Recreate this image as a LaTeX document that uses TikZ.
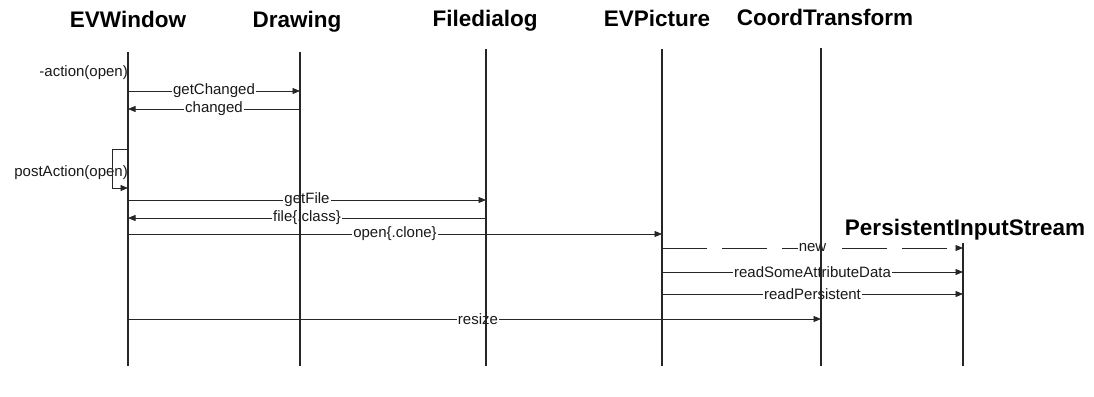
\documentclass[tikz,border=0pt]{standalone}
\usepackage{fontspec}
\setmainfont{Liberation Sans}
\usetikzlibrary{arrows.meta}
\begin{document}
\begin{tikzpicture}[x=1pt,y=-1pt,
  objtitle/.style={font=\fontsize{22.5}{26}\selectfont\bfseries, anchor=base, inner sep=0pt},
  lifeline/.style={line width=1.1pt, black!85},
  msg/.style={line width=0.7pt, black!85, -{Triangle[length=7.5pt,width=6pt]}},
  dmsg/.style={msg, dash pattern=on 45pt off 15pt},
  lbl/.style={font=\fontsize{15}{18}\selectfont, fill=white, inner sep=1pt, text=black!90}]
\useasboundingbox (0,0) rectangle (1094,396);
% titles
\node[objtitle] (tew) at (128,28) {EVWindow};
\node[objtitle] (tdr) at (297,28) {Drawing};
\node[objtitle] (tfd) at (485,27) {Filedialog};
\node[objtitle] (tep) at (657,27) {EVPicture};
\node[objtitle] (tct) at (825,26) {CoordTransform};
\node[objtitle] (tps) at (965,235) {PersistentInputStream};
% lifeline tops / bottoms
\coordinate (ew) at (128,52);  \coordinate (ewb) at (128,366);
\coordinate (dr) at (300,52);  \coordinate (drb) at (300,366);
\coordinate (fd) at (486,49);  \coordinate (fdb) at (486,366);
\coordinate (ep) at (662,49);  \coordinate (epb) at (662,366);
\coordinate (ct) at (821,48);  \coordinate (ctb) at (821,366);
\coordinate (ps) at (963,243); \coordinate (psb) at (963,366);
% message rows
\coordinate (m0) at (0,73);
\coordinate (m1) at (0,91);
\coordinate (m2) at (0,109);
\coordinate (lt) at (112,149);
\coordinate (lb) at (112,188);
\coordinate (m3) at (0,173);
\coordinate (m4) at (0,200);
\coordinate (m5) at (0,218);
\coordinate (m6) at (0,234);
\coordinate (m7) at (0,248);
\coordinate (m8) at (0,272);
\coordinate (m9) at (0,294);
\coordinate (m10) at (0,319);
% action(open)
\node[lbl, fill=none, anchor=east, inner sep=0pt] (act) at (ew |- m0) {-action(open)};
% getChanged / changed
\draw[msg] (ew |- m1) -- node[lbl] (l1) {getChanged} (dr |- m1);
\draw[msg] (dr |- m2) -- node[lbl] (l2) {changed} (ew |- m2);
% postAction loop
\node[lbl, fill=none, anchor=east, inner sep=0pt] (pa) at (ew |- m3) {postAction(open)};
\draw[msg] (ew |- lt) -- (lt) -- (lb) -- (ew |- lb);
% getFile etc.
\draw[msg] (ew |- m4) -- node[lbl] (l4) {getFile} (fd |- m4);
\draw[msg] (fd |- m5) -- node[lbl] (l5) {file\{.class\}} (ew |- m5);
\draw[msg] (ew |- m6) -- node[lbl] (l6) {open\{.clone\}} (ep |- m6);
\draw[dmsg] (ep |- m7) -- node[lbl] (l7) {new} (ps |- m7);
\draw[msg] (ep |- m8) -- node[lbl] (l8) {readSomeAttributeData} (ps |- m8);
\draw[msg] (ep |- m9) -- node[lbl] (l9) {readPersistent} (ps |- m9);
\draw[msg] (ew |- m10) -- node[lbl, pos=0.505] (l10) {resize} (ct |- m10);
% lifelines drawn on top
\draw[lifeline] (ew) -- (ewb);
\draw[lifeline] (dr) -- (drb);
\draw[lifeline] (fd) -- (fdb);
\draw[lifeline] (ep) -- (epb);
\draw[lifeline] (ct) -- (ctb);
\draw[lifeline] (ps) -- (psb);
\end{tikzpicture}
\end{document}
